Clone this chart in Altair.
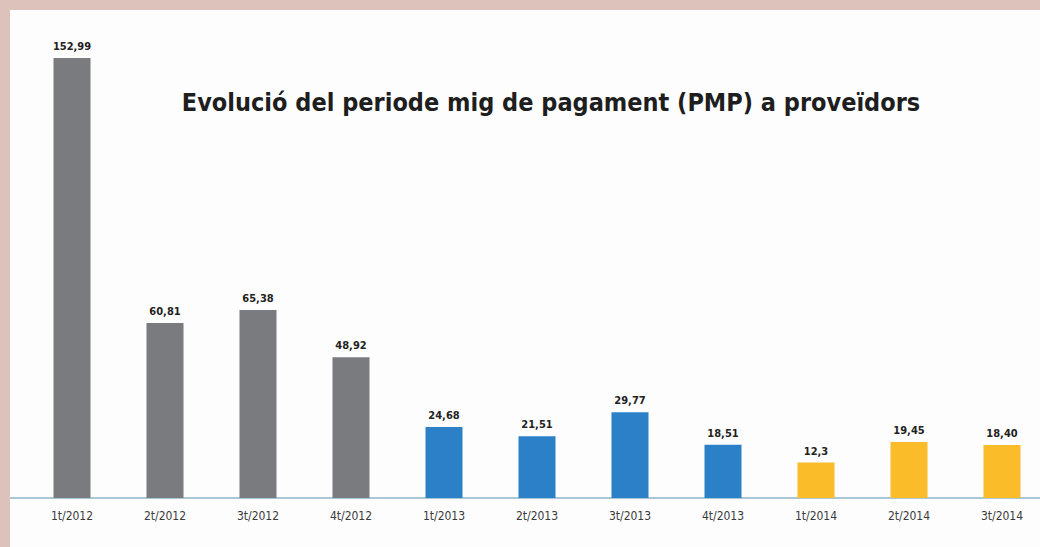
import altair as alt
import pandas as pd

quarters = ["1t/2012", "2t/2012", "3t/2012", "4t/2012",
            "1t/2013", "2t/2013", "3t/2013", "4t/2013",
            "1t/2014", "2t/2014", "3t/2014"]
values = [152.99, 60.81, 65.38, 48.92, 24.68, 21.51, 29.77, 18.51, 12.3, 19.45, 18.40]
labels = ["152,99", "60,81", "65,38", "48,92", "24,68", "21,51", "29,77", "18,51",
          "12,3", "19,45", "18,40"]
years = ["2012"] * 4 + ["2013"] * 4 + ["2014"] * 3

df = pd.DataFrame({"q": quarters, "v": values, "lab": labels, "year": years})

W, H = 1030, 488

x = alt.X("q:N", sort=quarters, title=None,
          scale=alt.Scale(range=[15.5, 1038.5], paddingInner=0.6, paddingOuter=0.3),
          axis=alt.Axis(labelAngle=0, ticks=False, domain=False, labelPadding=12,
                        labelFont="DejaVu Sans Condensed", labelFontSize=12,
                        labelColor="#3a3a3a", zindex=2))
yscale = alt.Scale(domain=[0, 160], range=[488, 27.8])
y = alt.Y("v:Q", title=None, scale=yscale, axis=None)

color = alt.Color("year:N", legend=None,
                  scale=alt.Scale(domain=["2012", "2013", "2014"],
                                  range=["#797b7f", "#2b80c8", "#fbbc2a"]))

base = alt.Chart(df)

panel = alt.Chart(pd.DataFrame({"p": [1]})).mark_rect(color="#fdfdfe").encode(
    x=alt.value(0), x2=alt.value(W), y=alt.value(0), y2=alt.value(537))

bars = base.mark_bar(size=37).encode(x=x, y=y, color=color)

text = base.mark_text(dy=-11, fontWeight="bold", fontSize=11,
                      font="DejaVu Sans Condensed", color="#222222").encode(
    x=x, y=y, text="lab:N")

baseline = alt.Chart(pd.DataFrame({"z": [0]})).mark_rule(color="#8fb3c6", strokeWidth=1.5).encode(
    y=alt.Y("z:Q", scale=yscale, axis=None),
    x=alt.value(0), x2=alt.value(W))

title = alt.Chart(pd.DataFrame({"t": ["Evolució del periode mig de pagament (PMP) a proveïdors"]})).mark_text(
    fontWeight="bold", fontSize=25, font="DejaVu Sans Condensed", color="#1e1e1e",
    align="center", baseline="middle").encode(
    x=alt.value(541), y=alt.value(93), text="t:N")

chart = alt.layer(panel, baseline, bars, text, title).properties(
    width=W, height=H,
    background="#dcc2ba",
    padding={"left": 10, "top": 10, "right": 0, "bottom": 49},
    autosize=alt.AutoSizeParams(type="none"),
).configure_view(fill="#fdfdfe", stroke=None)

chart.save("out.html", embed_options={"renderer": "svg", "actions": False})
